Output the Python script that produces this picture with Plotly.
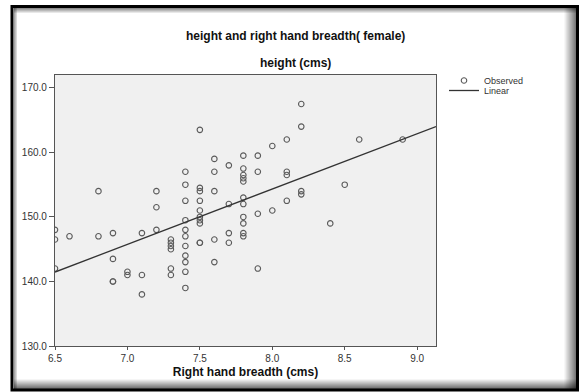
import numpy as np
import plotly.graph_objects as go

# ---- data ----
hand_breadth = [
    6.5, 6.5, 6.5,
    6.6,
    6.8, 6.8,
    6.9, 6.9, 6.9, 6.9,
    7.0, 7.0,
    7.1, 7.1, 7.1,
    7.2, 7.2, 7.2,
    7.3, 7.3, 7.3, 7.3, 7.3, 7.3,
    7.4, 7.4, 7.4, 7.4, 7.4, 7.4, 7.4, 7.4, 7.4, 7.4, 7.4,
    7.5, 7.5, 7.5, 7.5, 7.5, 7.5, 7.5, 7.5, 7.5, 7.5,
    7.6, 7.6, 7.6, 7.6, 7.6,
    7.7, 7.7, 7.7, 7.7,
    7.8, 7.8, 7.8, 7.8, 7.8, 7.8, 7.8, 7.8, 7.8, 7.8, 7.8,
    7.9, 7.9, 7.9, 7.9,
    8.0, 8.0,
    8.1, 8.1, 8.1, 8.1,
    8.2, 8.2, 8.2, 8.2,
    8.4, 8.5, 8.6, 8.9,
]
height = [
    148, 146.5, 142,
    147,
    154, 147,
    147.5, 143.5, 140, 140,
    141.5, 141,
    147.5, 141, 138,
    154, 151.5, 148,
    146.5, 146, 145.5, 145, 142, 141,
    157, 155, 152.5, 149.5, 148, 147, 145.5, 144, 143, 141.5, 139,
    163.5, 154.5, 154, 152.5, 151, 150, 149.5, 149, 146, 146,
    159, 157, 154, 146.5, 143,
    158, 152, 147.5, 146,
    159.5, 157.5, 156.5, 156, 155.5, 153, 152, 150, 149, 147.5, 147,
    159.5, 157, 150.5, 142,
    161, 151,
    162, 157, 156.5, 152.5,
    167.5, 164, 154, 153.5,
    149, 155, 162, 162,
]
x_ticks = [6.5, 7.0, 7.5, 8.0, 8.5, 9.0]
y_ticks = [130, 140, 150, 160, 170]

X_RANGE = [6.5, 9.13]
Y_RANGE = [130, 172]

# linear fit computed from the observed data
slope, intercept = np.polyfit(hand_breadth, height, 1)
fit_x = np.array(X_RANGE)
fit_y = intercept + slope * fit_x

W, H = 579, 392
ML, MR, MT, MB = 55, 143, 75, 46
PW, PH = W - ML - MR, H - MT - MB


def px(x):
    return (x - ML) / PW


def py(y):
    return (H - MB - y) / PH


fig = go.Figure()
fig.add_trace(go.Scatter(
    x=hand_breadth, y=height, mode="markers", name="Observed", legend="legend",
    marker=dict(symbol="circle-open", size=5.5, color="#5a5a5a",
                line=dict(width=1.1, color="#5a5a5a")),
))
fig.add_trace(go.Scatter(
    x=fit_x, y=fit_y, mode="lines", name="Linear", legend="legend2",
    line=dict(color="#333333", width=1.3),
))

shapes = []
# inset shadow of the frame
for i in range(12):
    a = 0.03 + 0.045 * i
    shapes.append(dict(type="rect", xref="paper", yref="paper", layer="above",
                       x0=px(564 + i), x1=px(565 + i), y0=py(8), y1=py(389),
                       line=dict(width=0), fillcolor=f"rgba(0,0,0,{a:.2f})"))
for i in range(10):
    a = 0.04 + 0.06 * i
    shapes.append(dict(type="rect", xref="paper", yref="paper", layer="above",
                       x0=px(14), x1=px(577), y0=py(379 + i), y1=py(380 + i),
                       line=dict(width=0), fillcolor=f"rgba(0,0,0,{a:.2f})"))
for i in range(5):
    a = 0.45 - 0.09 * i
    shapes.append(dict(type="rect", xref="paper", yref="paper", layer="above",
                       x0=px(14), x1=px(577), y0=py(8 + i), y1=py(9 + i),
                       line=dict(width=0), fillcolor=f"rgba(0,0,0,{a:.2f})"))
for i in range(3):
    a = 0.35 - 0.1 * i
    shapes.append(dict(type="rect", xref="paper", yref="paper", layer="above",
                       x0=px(14 + i), x1=px(15 + i), y0=py(8), y1=py(389),
                       line=dict(width=0), fillcolor=f"rgba(0,0,0,{a:.2f})"))
# outer black frame
shapes.append(dict(type="rect", xref="paper", yref="paper", layer="above",
                   x0=px(12), x1=px(577.5), y0=py(6.5), y1=py(390),
                   line=dict(color="black", width=3), fillcolor="rgba(0,0,0,0)"))

legend_common = dict(xanchor="left", yanchor="middle", bgcolor="rgba(0,0,0,0)",
                     font=dict(size=9, color="#333333"), itemwidth=30,
                     borderwidth=0)

fig.update_layout(
    width=W, height=H,
    margin=dict(l=ML, r=MR, t=MT, b=MB),
    paper_bgcolor="white",
    plot_bgcolor="#f0f0f0",
    font=dict(family="Liberation Sans, Arial, sans-serif", color="#222222"),
    showlegend=True,
    legend=dict(x=px(444), y=py(80.5), **legend_common),
    legend2=dict(x=px(444), y=py(90.5), **legend_common),
    shapes=shapes,
    annotations=[
        dict(text="<b>height and right hand breadth( female)</b>", xref="paper", yref="paper",
             x=px(295), y=py(36), xanchor="center", yanchor="middle", showarrow=False,
             font=dict(size=12, color="#111111")),
        dict(text="<b>height (cms)</b>", xref="paper", yref="paper",
             x=px(295), y=py(63), xanchor="center", yanchor="middle", showarrow=False,
             font=dict(size=12, color="#111111")),
    ],
    xaxis=dict(
        range=X_RANGE, tickvals=x_ticks, ticktext=[f"{v:.1f}" for v in x_ticks],
        showgrid=False, zeroline=False, showline=True, mirror=True,
        linecolor="#555555", linewidth=1.2, ticks="outside", ticklen=3,
        tickcolor="#555555", tickfont=dict(size=10, color="#333333"),
        title=dict(text="<b>Right hand breadth (cms)</b>", font=dict(size=12, color="#111111"),
                   standoff=4),
    ),
    yaxis=dict(
        range=Y_RANGE, tickvals=y_ticks, ticktext=[f"{v:.1f}" for v in y_ticks],
        showgrid=False, zeroline=False, showline=True, mirror=True,
        linecolor="#555555", linewidth=1.2, ticks="outside", ticklen=5,
        tickcolor="#555555", tickfont=dict(size=10, color="#333333"),
    ),
)

fig.write_html(
    "out.html",
    config={"displayModeBar": False},
    post_script="document.body.style.margin='0';document.body.style.overflow='hidden';",
)
